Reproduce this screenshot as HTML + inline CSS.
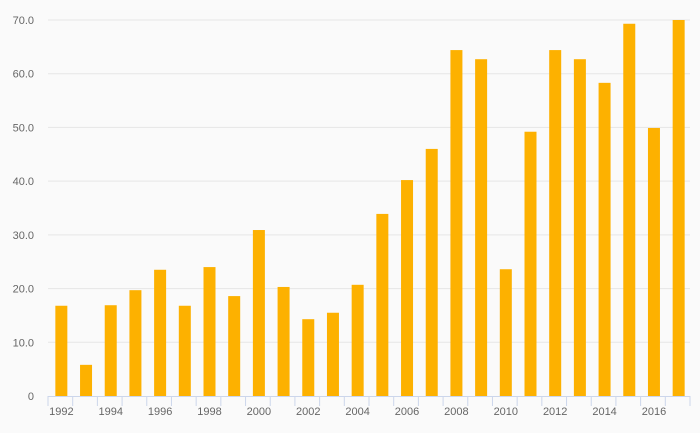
<!DOCTYPE html>
<html><head><meta charset="utf-8"><style>
html,body{margin:0;padding:0;background:#fafafa;}
svg{display:block;font-family:"Liberation Sans",sans-serif;}
</style></head><body>
<svg id="chart" width="700" height="433" viewBox="0 0 700 433">
<rect width="700" height="433" fill="#fafafa"/>
<g id="grid"></g><g id="bars"></g><g id="xaxis"></g><g id="yaxis"></g>
</svg>
<script>
const years = [1992,1993,1994,1995,1996,1997,1998,1999,2000,2001,2002,2003,2004,2005,2006,2007,2008,2009,2010,2011,2012,2013,2014,2015,2016,2017];
const values = [16.8,5.8,16.9,19.7,23.5,16.8,24.0,18.6,30.9,20.3,14.3,15.5,20.7,33.9,40.2,46.0,64.4,62.7,23.6,49.2,64.4,62.7,58.3,69.3,49.9,70.0];
const yTicks = [0,10,20,30,40,50,60,70];
const xLabelYears = [1992,1994,1996,1998,2000,2002,2004,2006,2008,2010,2012,2014,2016];

const NS="http://www.w3.org/2000/svg";
const L=48,R=690,T=20,B=396,yMax=70;
const band=(R-L)/years.length;
function y(v){return B-(v/yMax)*(B-T);}
function x(i){return L+band*i;}
function mk(tag,attrs,parent){const e=document.createElementNS(NS,tag);for(const k in attrs)e.setAttribute(k,attrs[k]);parent.appendChild(e);return e;}
const grid=document.getElementById('grid'),bars=document.getElementById('bars'),xa=document.getElementById('xaxis'),ya=document.getElementById('yaxis');
yTicks.forEach(t=>{
  if(t>0){const g=mk('line',{x1:L,x2:R,y1:y(t),y2:y(t),stroke:'#e6e6e6','stroke-width':1},grid);
  
  }
  const tx=mk('text',{x:34,y:y(t)+4,'text-anchor':'end','font-size':11,fill:'#666'},ya);
  tx.textContent=t===0?'0':t.toFixed(1);
  
  
});
values.forEach((v,i)=>{
  const cx=x(i)+band/2+1;
  const r=mk('rect',{x:cx-6,y:y(v),width:12,height:B-y(v),fill:'#fdb100'},bars);
  
  
});
const ax=mk('line',{x1:L,x2:R,y1:B+0.5,y2:B+0.5,stroke:'#ccd6eb','stroke-width':1},xa);


for(let i=0;i<=years.length;i++){
  const tk=mk('line',{x1:x(i),x2:x(i),y1:B,y2:B+10,stroke:'#ccd6eb','stroke-width':1},xa);
  
  
}
xLabelYears.forEach(yr=>{
  const i=years.indexOf(yr);
  const tx=mk('text',{x:x(i)+band/2+1,y:415,'text-anchor':'middle','font-size':11,fill:'#666'},xa);
  tx.textContent=yr;
  
  
});
</script>
</body></html>
